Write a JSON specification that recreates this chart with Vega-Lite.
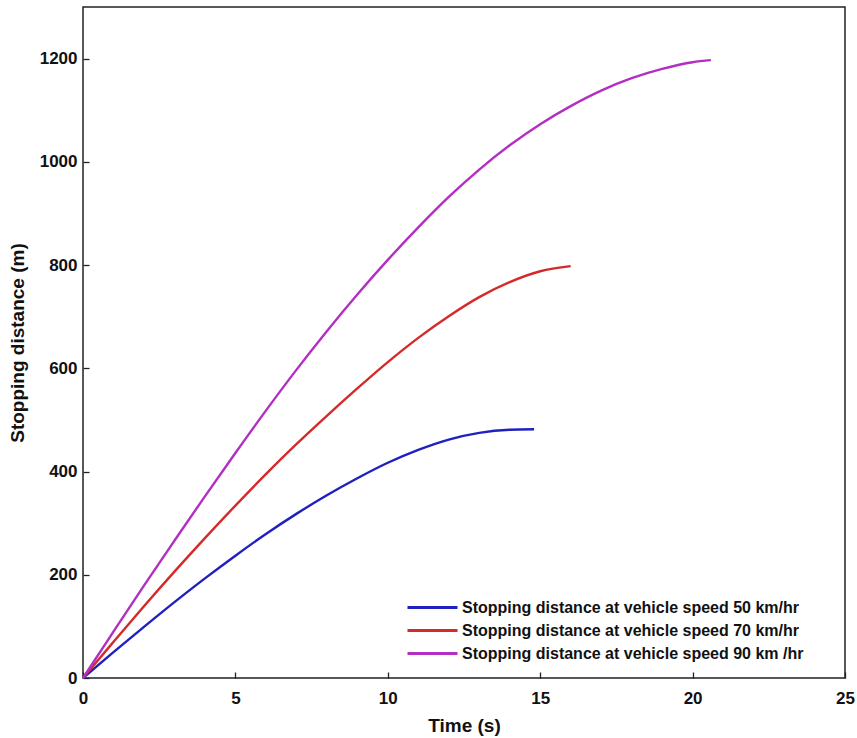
{
  "$schema": "https://vega.github.io/schema/vega-lite/v6.json",
  "width": 762,
  "height": 671,
  "autosize": "none",
  "padding": {"left": 83, "top": 7, "right": 12, "bottom": 60},
  "background": "white",
  "config": {
    "view": {"stroke": "#222222", "strokeWidth": 1.5},
    "font": "Liberation Sans",
    "axis": {
      "domain": false,
      "grid": false,
      "ticks": true,
      "tickSize": -6,
      "tickColor": "#222222",
      "tickWidth": 1.3,
      "labelFont": "Liberation Sans",
      "labelFontWeight": "bold",
      "labelFontSize": 17,
      "labelColor": "#111111",
      "titleFont": "Liberation Sans",
      "titleFontWeight": "bold",
      "titleFontSize": 19,
      "titleColor": "#111111"
    },
    "legend": {
      "labelFont": "Liberation Sans",
      "labelFontWeight": "bold",
      "labelFontSize": 16,
      "labelColor": "#111111"
    }
  },
  "data": {
    "values": [
      {"series": "Stopping distance at vehicle speed 50 km/hr", "t": 0, "d": 0},
      {"series": "Stopping distance at vehicle speed 50 km/hr", "t": 1, "d": 50},
      {"series": "Stopping distance at vehicle speed 50 km/hr", "t": 2, "d": 99},
      {"series": "Stopping distance at vehicle speed 50 km/hr", "t": 3, "d": 147},
      {"series": "Stopping distance at vehicle speed 50 km/hr", "t": 4, "d": 193},
      {"series": "Stopping distance at vehicle speed 50 km/hr", "t": 5, "d": 237},
      {"series": "Stopping distance at vehicle speed 50 km/hr", "t": 6, "d": 279},
      {"series": "Stopping distance at vehicle speed 50 km/hr", "t": 7, "d": 318},
      {"series": "Stopping distance at vehicle speed 50 km/hr", "t": 8, "d": 354},
      {"series": "Stopping distance at vehicle speed 50 km/hr", "t": 9, "d": 387},
      {"series": "Stopping distance at vehicle speed 50 km/hr", "t": 10, "d": 417},
      {"series": "Stopping distance at vehicle speed 50 km/hr", "t": 11, "d": 442},
      {"series": "Stopping distance at vehicle speed 50 km/hr", "t": 12, "d": 462},
      {"series": "Stopping distance at vehicle speed 50 km/hr", "t": 13, "d": 475},
      {"series": "Stopping distance at vehicle speed 50 km/hr", "t": 14, "d": 481},
      {"series": "Stopping distance at vehicle speed 50 km/hr", "t": 14.8, "d": 482},
      {"series": "Stopping distance at vehicle speed 70 km/hr", "t": 0, "d": 0},
      {"series": "Stopping distance at vehicle speed 70 km/hr", "t": 1, "d": 70},
      {"series": "Stopping distance at vehicle speed 70 km/hr", "t": 2, "d": 139},
      {"series": "Stopping distance at vehicle speed 70 km/hr", "t": 3, "d": 206},
      {"series": "Stopping distance at vehicle speed 70 km/hr", "t": 4, "d": 271},
      {"series": "Stopping distance at vehicle speed 70 km/hr", "t": 5, "d": 334},
      {"series": "Stopping distance at vehicle speed 70 km/hr", "t": 6, "d": 395},
      {"series": "Stopping distance at vehicle speed 70 km/hr", "t": 7, "d": 453},
      {"series": "Stopping distance at vehicle speed 70 km/hr", "t": 8, "d": 508},
      {"series": "Stopping distance at vehicle speed 70 km/hr", "t": 9, "d": 561},
      {"series": "Stopping distance at vehicle speed 70 km/hr", "t": 10, "d": 612},
      {"series": "Stopping distance at vehicle speed 70 km/hr", "t": 11, "d": 659},
      {"series": "Stopping distance at vehicle speed 70 km/hr", "t": 12, "d": 701},
      {"series": "Stopping distance at vehicle speed 70 km/hr", "t": 13, "d": 738},
      {"series": "Stopping distance at vehicle speed 70 km/hr", "t": 14, "d": 767},
      {"series": "Stopping distance at vehicle speed 70 km/hr", "t": 15, "d": 788},
      {"series": "Stopping distance at vehicle speed 70 km/hr", "t": 16, "d": 798},
      {"series": "Stopping distance at vehicle speed 90 km /hr", "t": 0, "d": 0},
      {"series": "Stopping distance at vehicle speed 90 km /hr", "t": 1, "d": 90},
      {"series": "Stopping distance at vehicle speed 90 km /hr", "t": 2, "d": 179},
      {"series": "Stopping distance at vehicle speed 90 km /hr", "t": 3, "d": 266},
      {"series": "Stopping distance at vehicle speed 90 km /hr", "t": 4, "d": 352},
      {"series": "Stopping distance at vehicle speed 90 km /hr", "t": 5, "d": 436},
      {"series": "Stopping distance at vehicle speed 90 km /hr", "t": 6, "d": 518},
      {"series": "Stopping distance at vehicle speed 90 km /hr", "t": 7, "d": 597},
      {"series": "Stopping distance at vehicle speed 90 km /hr", "t": 8, "d": 672},
      {"series": "Stopping distance at vehicle speed 90 km /hr", "t": 9, "d": 743},
      {"series": "Stopping distance at vehicle speed 90 km /hr", "t": 10, "d": 810},
      {"series": "Stopping distance at vehicle speed 90 km /hr", "t": 11, "d": 873},
      {"series": "Stopping distance at vehicle speed 90 km /hr", "t": 12, "d": 932},
      {"series": "Stopping distance at vehicle speed 90 km /hr", "t": 13, "d": 985},
      {"series": "Stopping distance at vehicle speed 90 km /hr", "t": 14, "d": 1032},
      {"series": "Stopping distance at vehicle speed 90 km /hr", "t": 15, "d": 1073},
      {"series": "Stopping distance at vehicle speed 90 km /hr", "t": 16, "d": 1108},
      {"series": "Stopping distance at vehicle speed 90 km /hr", "t": 17, "d": 1138},
      {"series": "Stopping distance at vehicle speed 90 km /hr", "t": 18, "d": 1162},
      {"series": "Stopping distance at vehicle speed 90 km /hr", "t": 19, "d": 1180},
      {"series": "Stopping distance at vehicle speed 90 km /hr", "t": 20, "d": 1193},
      {"series": "Stopping distance at vehicle speed 90 km /hr", "t": 20.6, "d": 1197}
    ]
  },
  "mark": {"type": "line", "interpolate": "monotone", "strokeWidth": 2.4},
  "encoding": {
    "x": {
      "field": "t",
      "type": "quantitative",
      "title": "Time (s)",
      "scale": {"domain": [0, 25], "nice": false, "zero": true},
      "axis": {"values": [0, 5, 10, 15, 20, 25], "labelPadding": 18, "titlePadding": 10, "labelFlush": false}
    },
    "y": {
      "field": "d",
      "type": "quantitative",
      "title": "Stopping distance (m)",
      "scale": {"domain": [0, 1300], "nice": false},
      "axis": {"values": [0, 200, 400, 600, 800, 1000, 1200], "format": "d", "labelPadding": 12, "titlePadding": 12, "labelFlush": false}
    },
    "color": {
      "field": "series",
      "type": "nominal",
      "scale": {"range": ["#2020c0", "#d42a2a", "#b22fc2"]},
      "legend": {
        "title": null,
        "orient": "none",
        "legendX": 334,
        "legendY": 585,
        "symbolType": "M-2.5,0H2.5",
        "symbolSize": 400,
        "symbolStrokeWidth": 3,
        "rowPadding": 3,
        "labelOffset": 18,
        "labelLimit": 0,
        "padding": 4
      }
    }
  }
}
